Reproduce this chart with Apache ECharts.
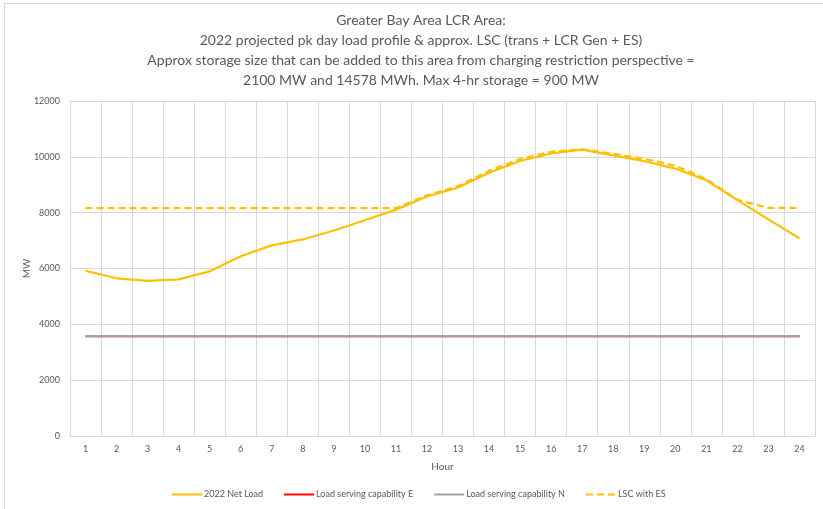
<!DOCTYPE html>
<html>
<head>
<meta charset="utf-8">
<script src="https://cdn.jsdelivr.net/npm/echarts@6/dist/echarts.min.js"></script>
<style>html,body{margin:0;padding:0;background:#fff;}#c{width:823px;height:509px;}</style>
</head>
<body>
<div id="c"></div>
<script>
const hours = ['1','2','3','4','5','6','7','8','9','10','11','12','13','14','15','16','17','18','19','20','21','22','23','24'];
const netLoad = [5920,5650,5560,5610,5900,6440,6830,7040,7360,7730,8110,8580,8900,9430,9850,10120,10260,10050,9850,9580,9160,8450,7760,7080];
const lscE = [3580,3580,3580,3580,3580,3580,3580,3580,3580,3580,3580,3580,3580,3580,3580,3580,3580,3580,3580,3580,3580,3580,3580,3580];
const lscN = [3580,3580,3580,3580,3580,3580,3580,3580,3580,3580,3580,3580,3580,3580,3580,3580,3580,3580,3580,3580,3580,3580,3580,3580];
const lscES = [8160,8160,8160,8160,8160,8160,8160,8160,8160,8160,8160,8620,8950,9500,9920,10180,10270,10110,9930,9680,9200,8460,8170,8170];
const seriesNames = ['2022 Net Load','Load serving capability E','Load serving capability N','LSC with ES'];
const titleLines = ['Greater Bay Area LCR Area:','2022 projected pk day load profile & approx. LSC (trans + LCR Gen + ES)','Approx storage size that can be added to this area from charging restriction perspective =','2100 MW and 14578 MWh. Max 4-hr storage = 900 MW'];

const FONT = 'Lato';
const chart = echarts.init(document.getElementById('c'), null, {renderer:'canvas'});
chart.setOption({
  animation:false,
  backgroundColor:'#fff',
  textStyle:{fontFamily:FONT},
  graphic:[{type:'rect',shape:{x:4.5,y:3.5,width:830,height:520},style:{fill:'none',stroke:'#d9d9d9',lineWidth:1},silent:true}],
  title:{
    text: titleLines.join('\n'),
    left:416, top:5, textAlign:'center',
    textStyle:{fontFamily:FONT,fontSize:14,fontWeight:'normal',color:'#595959',lineHeight:20}
  },
  grid:{left:70, top:101, width:745, height:335, containLabel:false},
  legend:{
    bottom:5, left:166, itemGap:20, itemWidth:30, itemHeight:10,
    itemStyle:{opacity:0},
    textStyle:{fontFamily:FONT,fontSize:9,color:'#595959',padding:[0,0,0,-3]},
    data:seriesNames
  },
  xAxis:{
    type:'category', data:hours, boundaryGap:true,
    name:'Hour', nameLocation:'middle', nameGap:26, nameMoveOverlap:false,
    nameTextStyle:{fontFamily:FONT,fontSize:10,color:'#595959'},
    axisLine:{lineStyle:{color:'#d9d9d9'}},
    axisTick:{show:false},
    axisLabel:{color:'#595959',fontSize:9,margin:9},
    splitLine:{show:true,lineStyle:{color:'#d9d9d9'}}
  },
  yAxis:{
    type:'value', min:0, max:12000, interval:2000,
    name:'MW', nameLocation:'middle', nameGap:38, nameMoveOverlap:false,
    nameTextStyle:{fontFamily:FONT,fontSize:10,color:'#595959'},
    axisLine:{show:false}, axisTick:{show:false},
    axisLabel:{color:'#595959',fontSize:9,margin:10,formatter:function(v){return String(v);}},
    splitLine:{lineStyle:{color:'#d9d9d9'}}
  },
  series:[
    {name:seriesNames[0],type:'line',data:netLoad,symbol:'none',z:4,lineStyle:{color:'#FFC000',width:2.25},itemStyle:{color:'#FFC000'}},
    {name:seriesNames[1],type:'line',data:lscE,symbol:'none',z:2,lineStyle:{color:'#FF0000',width:2.25},itemStyle:{color:'#FF0000'}},
    {name:seriesNames[2],type:'line',data:lscN,symbol:'none',z:3,lineStyle:{color:'#A5A5A5',width:2.25},itemStyle:{color:'#A5A5A5'}},
    {name:seriesNames[3],type:'line',data:lscES,symbol:'none',z:5,lineStyle:{color:'#FFC000',width:2.25,type:[7,4]},itemStyle:{color:'#FFC000'}}
  ]
});
</script>
</body>
</html>
